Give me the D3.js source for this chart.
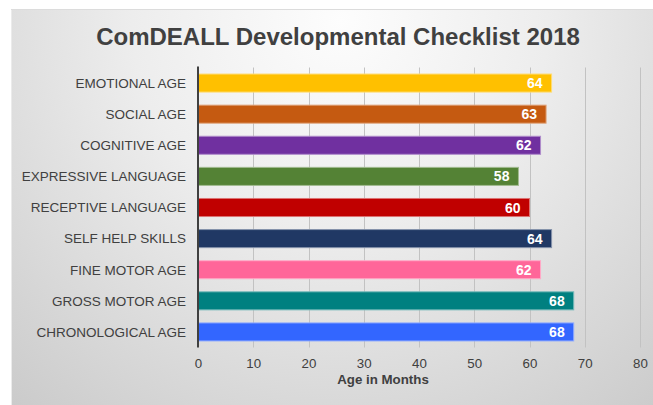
<!DOCTYPE html>
<html>
<head>
<meta charset="utf-8">
<script src="https://cdn.jsdelivr.net/npm/d3@7"></script>
<style>
  body { margin: 0; background: #fff; }
  svg { display: block; font-family: "Liberation Sans", Arial, sans-serif; }
</style>
</head>
<body>
<div id="chart"></div>
<script>
// chart data, top to bottom
let categories = ['EMOTIONAL AGE', 'SOCIAL AGE', 'COGNITIVE AGE', 'EXPRESSIVE LANGUAGE',
    'RECEPTIVE LANGUAGE', 'SELF HELP SKILLS', 'FINE MOTOR AGE', 'GROSS MOTOR AGE', 'CHRONOLOGICAL AGE'];
let values = [64, 63, 62, 58, 60, 64, 62, 68, 68];
let barColors = ['#FFC000', '#C55A11', '#7030A0', '#548235', '#C00000', '#203864', '#FF6699', '#008080', '#3366FF'];
let xTicks = [0, 10, 20, 30, 40, 50, 60, 70, 80];

let width = 653, height = 405;
let margin = {top: 67.5, left: 198, right: 13, bottom: 57.5};

let svg = d3.select('#chart')
    .append('svg')
    .attr('width', width)
    .attr('height', height);

// background panel with soft radial shading
let defs = svg.append('defs');
let grad = defs.append('radialGradient')
    .attr('id', 'bg')
    .attr('gradientUnits', 'userSpaceOnUse')
    .attr('cx', 340).attr('cy', 20).attr('r', 520);
grad.append('stop').attr('offset', '0%').attr('stop-color', '#fdfdfd');
grad.append('stop').attr('offset', '40%').attr('stop-color', '#ededed');
grad.append('stop').attr('offset', '100%').attr('stop-color', '#c9c9c9');

svg.append('rect')
    .attr('x', 11).attr('y', 9)
    .attr('width', width - 11).attr('height', height - 9)
    .attr('fill', 'url(#bg)');
svg.append('line')
    .attr('x1', 11.5).attr('x2', 11.5).attr('y1', 9).attr('y2', height)
    .attr('stroke', '#ebebeb');
svg.append('line')
    .attr('x1', 11).attr('x2', width).attr('y1', 9.5).attr('y2', 9.5)
    .attr('stroke', '#dcdcdc');

// scales
let x = d3.scaleLinear()
    .domain([0, 80])
    .range([margin.left, width - margin.right]);

let y = d3.scaleBand()
    .domain(categories)
    .range([margin.top, height - margin.bottom])
    .paddingInner(0.42)
    .paddingOuter(0.21);

// gridlines (run a bit below the plot like tick marks)
svg.append('g')
    .selectAll('line')
    .data(xTicks.slice(1))
    .enter()
    .append('line')
    .attr('x1', d => Math.round(x(d)) + 0.5)
    .attr('x2', d => Math.round(x(d)) + 0.5)
    .attr('y1', margin.top)
    .attr('y2', height - margin.bottom)
    .attr('stroke', '#c2c2c2')
    .attr('stroke-width', 1);

// bars
let rows = svg.append('g')
    .selectAll('g')
    .data(categories.map((c, i) => ({name: c, value: values[i], color: barColors[i]})))
    .enter()
    .append('g');

rows.append('rect')
    .attr('x', x(0))
    .attr('y', d => y(d.name))
    .attr('width', d => x(d.value) - x(0))
    .attr('height', y.bandwidth())
    .attr('fill', d => d.color)
    .attr('stroke', d => d3.interpolateRgb(d.color, '#ffffff')(0.45))
    .attr('stroke-width', 1);

// value labels inside the bar end
rows.append('text')
    .attr('x', d => x(d.value) - 9)
    .attr('y', d => y(d.name) + y.bandwidth() / 2)
    .attr('dy', '0.36em')
    .attr('text-anchor', 'end')
    .attr('fill', '#fff')
    .attr('font-weight', 'bold')
    .attr('font-size', '14px')
    .text(d => d.value);

// category labels
svg.append('g')
    .selectAll('text')
    .data(categories)
    .enter()
    .append('text')
    .attr('x', 186)
    .attr('y', d => y(d) + y.bandwidth() / 2)
    .attr('dy', '0.36em')
    .attr('text-anchor', 'end')
    .attr('fill', '#404040')
    .attr('font-size', '13.5px')
    .text(d => d);

// y axis line
svg.append('line')
    .attr('x1', x(0)).attr('x2', x(0))
    .attr('y1', margin.top - 1)
    .attr('y2', height - margin.bottom)
    .attr('stroke', '#404040')
    .attr('stroke-width', 2);

// x tick labels
let xAxis = d3.axisBottom(x)
    .tickValues(xTicks)
    .tickSize(0)
    .tickPadding(0);
let xg = svg.append('g')
    .attr('transform', `translate(0, ${height - margin.bottom})`)
    .call(xAxis);
xg.select('.domain').remove();
xg.selectAll('text')
    .attr('y', 15.5)
    .attr('dy', '0.36em')
    .attr('fill', '#404040')
    .attr('font-size', '13.3px')
    .attr('font-family', '"Liberation Sans", Arial, sans-serif');

// axis title
svg.append('text')
    .attr('x', (x(0) + x(80)) / 2 - 36)
    .attr('y', 379)
    .attr('dy', '0.36em')
    .attr('text-anchor', 'middle')
    .attr('fill', '#404040')
    .attr('font-weight', 'bold')
    .attr('font-size', '13.3px')
    .text('Age in Months');

// chart title
svg.append('text')
    .attr('x', 338)
    .attr('y', 36)
    .attr('dy', '0.36em')
    .attr('text-anchor', 'middle')
    .attr('fill', '#404040')
    .attr('font-weight', 'bold')
    .attr('font-size', '24px')
    .text('ComDEALL Developmental Checklist 2018');
</script>
</body>
</html>
